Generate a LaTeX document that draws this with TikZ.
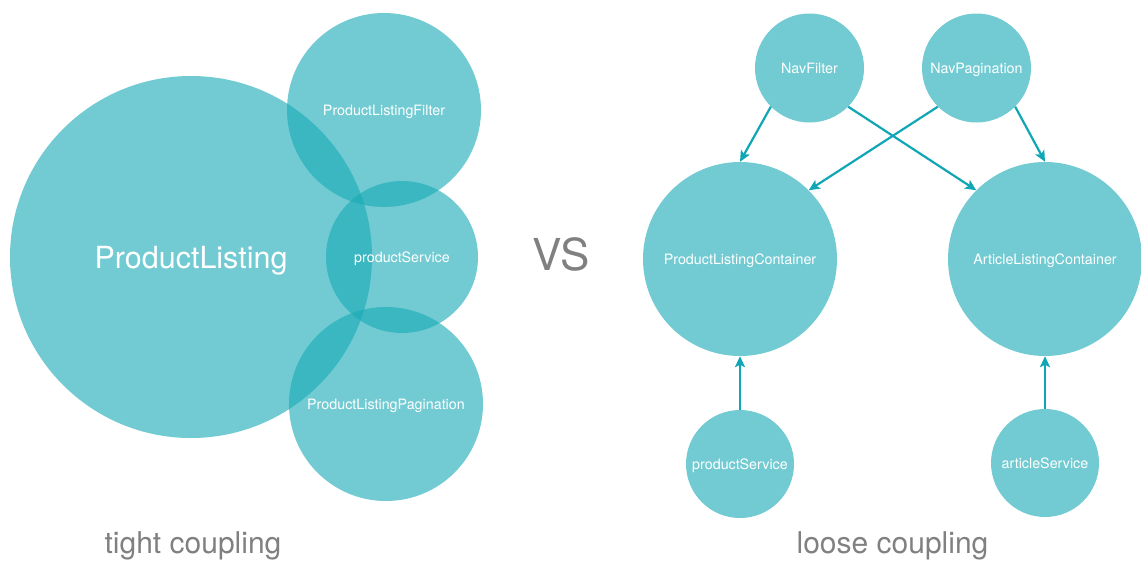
\documentclass[tikz,border=0pt]{standalone}
\usepackage{fontspec}
\setmainfont{TeX Gyre Heros}
\usetikzlibrary{arrows.meta}
\definecolor{bubblec}{RGB}{24,170,181}
\definecolor{arrowc}{RGB}{16,166,182}
\definecolor{txtgray}{RGB}{128,128,128}
\begin{document}
\begin{tikzpicture}[x=1pt,y=-1pt,
  bubble/.style={circle, fill=bubblec, fill opacity=0.61, text opacity=1, text=white,
    inner sep=0pt, minimum size=#1, text height=10.3pt, text depth=0pt,
    font=\fontsize{14.3}{16}\selectfont},
  link/.style={draw=arrowc, line width=2.2pt, -{Stealth[length=11pt,width=10pt,inset=2.5pt]}},
  caption/.style={text=txtgray, font=\fontsize{30}{36}\selectfont, anchor=base, inner sep=0pt}]
\useasboundingbox (0,0) rectangle (1141,560);
% tight coupling
\node[bubble=362pt, font=\fontsize{30.5}{36}\selectfont, text height=22pt] (pl) at (191,257) {ProductListing};
\node[bubble=194pt] (plf) at (384,110) {ProductListingFilter};
\node[bubble=152pt] (ps) at (402,257) {productService};
\node[bubble=194pt] (plp) at (386,404) {ProductListingPagination};
\node[caption] (tc) at (193,553) {tight coupling};
% vs
\node[caption, font=\fontsize{44}{50}\selectfont] (vs) at (561.5,270) {VS};
% loose coupling
\node[bubble=109pt] (nf) at (809.5,68) {NavFilter};
\node[bubble=109pt] (np) at (976.5,68) {NavPagination};
\node[bubble=194pt] (plc) at (740,259) {ProductListingContainer};
\node[bubble=194pt] (alc) at (1045,259) {ArticleListingContainer};
\node[bubble=108pt] (ps2) at (740,464) {productService};
\node[bubble=108pt] (as) at (1045,463) {articleService};
\node[caption] (lc) at (892.5,553) {loose coupling};
\draw[link] (nf.225) -- (plc.north);
\draw[link] (nf.-45) -- (alc.135);
\draw[link] (np.225) -- (plc.45);
\draw[link] (np.-45) -- (alc.north);
\draw[link] (ps2.north) -- (plc.south);
\draw[link] (as.north) -- (alc.south);
\end{tikzpicture}
\end{document}
